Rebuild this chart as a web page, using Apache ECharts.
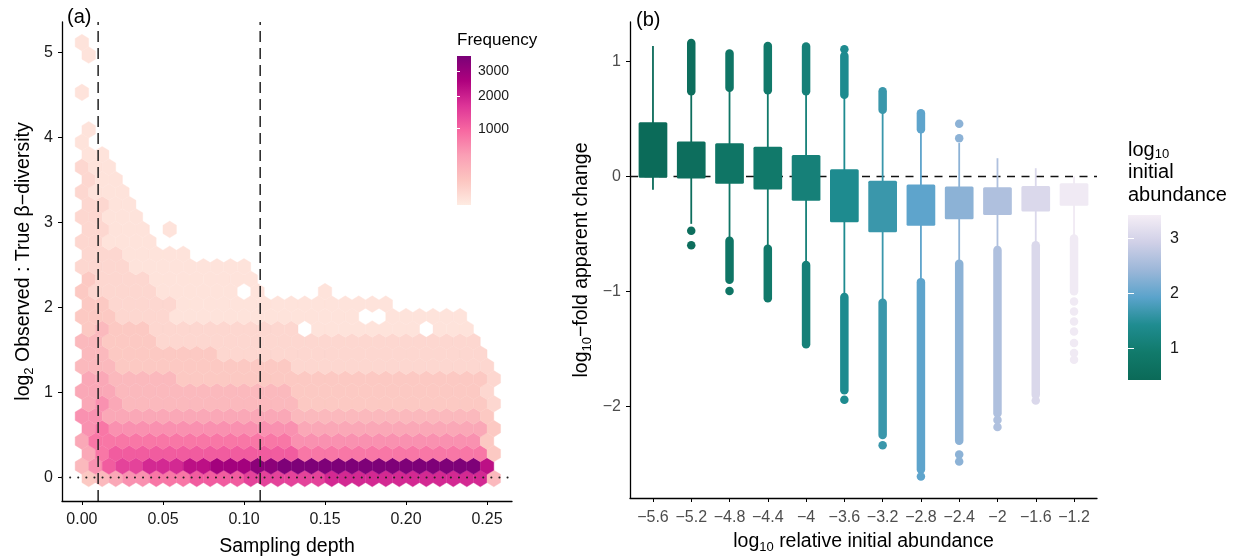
<!DOCTYPE html>
<html><head><meta charset="utf-8">
<script src="https://cdn.jsdelivr.net/npm/echarts@6.0.0/dist/echarts.min.js"></script>
<style>html,body{margin:0;padding:0;background:#fff}#c{width:1239px;height:558px}</style>
</head><body><div id="c"></div>
<script>
// ================= DATA =================
// ---- Panel (a): hexbin of log2 Observed:True beta-diversity vs sampling depth ----
const hexDX = 0.25 / 30;     // hex bin width in x (sampling depth)
const hexDY = 0.1465;        // spacing between hex rows in y
const hexY0 = -0.01;         // centre of the lowest hex row
// frequency read for each colour level
const levelFreq = {'1':10,'2':40,'3':100,'4':200,'5':350,'6':550,'7':800,'8':1100,'9':1450,'a':1850,'b':2300,'c':2800,'d':3300,'e':3600};
// one string per hex row (bottom row first); one character per column, '.' = empty bin
const hexRows = [
  "345667778888999999aaaaaaaaaaaa4",
  "46899aaabbcccddeeeeeeeeeeeeeeeb",
  "5788888888888888777777777777773",
  "5777777777777777666666666666663",
  "6766666666666666555555555555553",
  "6655555555555555444444444444443",
  "5654444444444444333333333333332",
  "5554444444444444333333333333332",
  "5544444333333333333333333333332",
  "4443333333333333222222222222222",
  "443333333322222222222222222222.",
  "443333222222222222222222222222.",
  "3433322222222222.11111111.111...",
  "333222211111111111111..111111..",
  "33222221111111111111111........",
  "322222111111.1....1............",
  "3222211111111..................",
  "2222111111111..................",
  "22211111",
  "221111",
  "22111.1",
  "22111",
  "2211",
  "2111",
  "211",
  "211",
  "11",
  "1",
  "1",
  "",
  "",
  "1",
  "",
  "",
  "1",
  "1"
];
const xTicksA = [0, 0.05, 0.10, 0.15, 0.20, 0.25];
const yTicksA = [0, 1, 2, 3, 4, 5];
const freqTicks = [1000, 2000, 3000];
const freqMin = 1, freqMax = 3700;
const vlinesA = [0.01, 0.11];
const hlineA = 0;

// ---- Panel (b): boxplots of log10-fold apparent change ----
const relAbund    = [-5.6, -5.2, -4.8, -4.4, -4.0, -3.6, -3.2, -2.8, -2.4, -2.0, -1.6, -1.2];
const abundColour = [0.45, 0.55, 0.75, 0.90, 1.10, 1.40, 1.65, 1.95, 2.30, 2.60, 3.05, 3.35];
const whiskerLow  = [-0.117, -0.413, -0.552, -0.625, -0.770, -1.045, -1.100, -0.915, -0.755, -0.639, -0.596, -0.523];
const q1          = [-0.013, -0.019, -0.065, -0.114, -0.213, -0.400, -0.486, -0.430, -0.372, -0.335, -0.306, -0.256];
const q3          = [ 0.470,  0.303,  0.289,  0.257,  0.187,  0.062, -0.039, -0.071, -0.088, -0.094, -0.083, -0.060];
const whiskerHigh = [ 1.135,  0.720,  0.750,  0.740,  0.730,  0.700,  0.560,  0.400,  0.290,  0.158,  0.071,  0.000];
// dense runs of outliers: [category index, from, to]
const outlierRuns = [
  [1, 0.74, 1.16],
  [2, 0.77, 1.07], [2, -0.56, -0.90],
  [3, 0.75, 1.135], [3, -0.63, -1.06],
  [4, 0.74, 1.13], [4, -0.77, -1.46],
  [5, 0.71, 1.05], [5, -1.05, -1.86],
  [6, 0.58, 0.74], [6, -1.10, -2.25],
  [7, 0.41, 0.55], [7, -0.92, -2.55],
  [8, -0.76, -2.30],
  [9, -0.64, -2.06],
  [10, -0.60, -1.90],
  [11, -0.54, -1.00]
];
// isolated outliers: [category index, value]
const outlierPoints = [
  [1, -0.474], [1, -0.600], [2, -0.997], [5, 1.106], [5, -1.943], [6, -2.34], [7, -2.61],
  [8, 0.457], [8, 0.332], [8, -2.42], [8, -2.48], [9, -2.12], [9, -2.18], [10, -1.95],
  [11, -1.089], [11, -1.176], [11, -1.263], [11, -1.35], [11, -1.45], [11, -1.537], [11, -1.596]
];
const yTicksB = [-2, -1, 0, 1];
const abundTicks = [1, 2, 3];
const abundMin = 0.42, abundMax = 3.42;
const hlineB = 0;

// ================= CHART =================
const FONT = "'Liberation Sans', Arial, Helvetica, sans-serif";
const rdpu = ['#feebe2', '#fcc5c0', '#fa9fb5', '#f768a1', '#dd3497', '#ae017e', '#7a0177'];
const pubugn = ['#0b6a58', '#117a6b', '#1f8c90', '#5aa3cb', '#9cb7d9', '#d0d0e7', '#f5eef6'];

const hexData = [];
hexRows.forEach((row, r) => {
  const off = (r % 2 === 0) ? 0.5 : 0;
  for (let k = 0; k < row.length; k++) {
    const ch = row[k];
    if (ch === '.') continue;
    const f = levelFreq[ch];
    hexData.push([(k + off) * hexDX, hexY0 + r * hexDY, f, Math.sqrt(f)]);
  }
});

const xRangeA = [-0.0123, 0.2654], yRangeA = [-0.275, 5.36];
const xRangeB = [-5.84, -0.96], yRangeB = [-2.798, 1.343];
const boxWidth = 0.3;

const boxData = relAbund.map((x, i) => [x, whiskerLow[i], abundColour[i], q1[i], q3[i], whiskerHigh[i]]);
const runData = outlierRuns.map(([i, a, b]) => [relAbund[i], a, abundColour[i], b]);
const pointData = outlierPoints.map(([i, y]) => [relAbund[i], y, abundColour[i]]);

const minus = v => (v < 0 ? '\u2212' : '') + String(+Math.abs(v).toFixed(1));

function gradient(colors) {
  return new echarts.graphic.LinearGradient(0, 1, 0, 0,
    colors.map((c, i) => ({offset: i / (colors.length - 1), color: c})));
}

const subRich = {
  n: {fontSize: 19.5, fontFamily: FONT, color: '#000', lineHeight: 24},
  s: {fontSize: 13, fontFamily: FONT, color: '#000', lineHeight: 10, verticalAlign: 'bottom'}
};

const axisLineStyle = {color: '#000', width: 1.3};

const option = {
  animation: false,
  backgroundColor: '#fff',
  textStyle: {fontFamily: FONT},
  grid: [
    {left: 62, top: 22, width: 450, height: 479, outerBoundsMode: 'none'},
    {left: 630, top: 22, width: 467, height: 476, outerBoundsMode: 'none'},
    {left: 457, top: 56, width: 14, height: 149, outerBoundsMode: 'none'},
    {left: 1128, top: 215, width: 33, height: 165, outerBoundsMode: 'none'}
  ],
  xAxis: [
    {gridIndex: 0, type: 'value', min: xRangeA[0], max: xRangeA[1],
     axisLine: {onZero: false, lineStyle: axisLineStyle}, splitLine: {show: false},
     axisTick: {customValues: xTicksA, length: 4, lineStyle: {color: '#000'}},
     axisLabel: {customValues: xTicksA, formatter: v => v.toFixed(2), fontSize: 16, color: '#1a1a1a', margin: 11},
     name: 'Sampling depth', nameLocation: 'middle', nameGap: 34,
     nameTextStyle: {fontSize: 19.5, color: '#000', lineHeight: 24}},
    {gridIndex: 1, type: 'value', min: xRangeB[0], max: xRangeB[1],
     axisLine: {onZero: false, lineStyle: axisLineStyle}, splitLine: {show: false},
     axisTick: {customValues: relAbund, length: 4, lineStyle: {color: '#000'}},
     axisLabel: {customValues: relAbund, formatter: minus, fontSize: 16, color: '#4d4d4d', margin: 12},
     name: '{n|log}{s|10}{n| relative initial abundance}', nameLocation: 'middle', nameGap: 32,
     nameTextStyle: {rich: subRich}},
    {gridIndex: 2, type: 'value', min: 0, max: 1, show: false},
    {gridIndex: 3, type: 'value', min: 0, max: 1, show: false}
  ],
  yAxis: [
    {gridIndex: 0, type: 'value', min: yRangeA[0], max: yRangeA[1],
     axisLine: {show: true, onZero: false, lineStyle: axisLineStyle}, splitLine: {show: false},
     axisTick: {show: true, customValues: yTicksA, length: 4, lineStyle: {color: '#000'}},
     axisLabel: {customValues: yTicksA, fontSize: 16, color: '#1a1a1a', margin: 9},
     name: '{n|log}{s|2}{n| Observed : True \u03b2\u2212diversity}', nameLocation: 'middle', nameGap: 26,
     nameTextStyle: {rich: subRich}},
    {gridIndex: 1, type: 'value', min: yRangeB[0], max: yRangeB[1],
     axisLine: {show: true, onZero: false, lineStyle: axisLineStyle}, splitLine: {show: false},
     axisTick: {show: true, customValues: yTicksB, length: 4, lineStyle: {color: '#000'}},
     axisLabel: {customValues: yTicksB, formatter: minus, fontSize: 16, color: '#4d4d4d', margin: 9},
     name: '{n|log}{s|10}{n|\u2212fold apparent change}', nameLocation: 'middle', nameGap: 36,
     nameTextStyle: {rich: subRich}},
    {gridIndex: 2, type: 'value', position: 'right', min: Math.sqrt(freqMin), max: Math.sqrt(freqMax), z: 5,
     axisLine: {show: false}, splitLine: {show: false},
     axisTick: {show: true, inside: true, length: 3, customValues: freqTicks.map(Math.sqrt), lineStyle: {color: '#fff', width: 1}},
     axisLabel: {customValues: freqTicks.map(Math.sqrt), formatter: v => String(Math.round(v * v)), fontSize: 14, color: '#1a1a1a', margin: 7}},
    {gridIndex: 2, type: 'value', position: 'left', min: Math.sqrt(freqMin), max: Math.sqrt(freqMax), z: 5,
     axisLine: {show: false}, splitLine: {show: false}, axisLabel: {show: false},
     axisTick: {show: true, inside: true, length: 3, customValues: freqTicks.map(Math.sqrt), lineStyle: {color: '#fff', width: 1}}},
    {gridIndex: 3, type: 'value', position: 'right', min: abundMin, max: abundMax, z: 5,
     axisLine: {show: false}, splitLine: {show: false},
     axisTick: {show: true, inside: true, length: 6, customValues: abundTicks, lineStyle: {color: '#fff', width: 1}},
     axisLabel: {customValues: abundTicks, fontSize: 16, color: '#1a1a1a', margin: 9}},
    {gridIndex: 3, type: 'value', position: 'left', min: abundMin, max: abundMax, z: 5,
     axisLine: {show: false}, splitLine: {show: false}, axisLabel: {show: false},
     axisTick: {show: true, inside: true, length: 6, customValues: abundTicks, lineStyle: {color: '#fff', width: 1}}}
  ],
  visualMap: [
    {type: 'continuous', show: false, seriesIndex: 0, dimension: 3,
     min: Math.sqrt(freqMin), max: Math.sqrt(freqMax), inRange: {color: rdpu}},
    {type: 'continuous', show: false, seriesIndex: [4, 5, 6], dimension: 2,
     min: abundMin, max: abundMax, inRange: {color: pubugn}}
  ],
  graphic: [
    {type: 'text', left: 67, top: 7, style: {text: '(a)', fontSize: 20, fontFamily: FONT, fill: '#000'}},
    {type: 'text', left: 636, top: 10, style: {text: '(b)', fontSize: 20, fontFamily: FONT, fill: '#000'}},
    {type: 'text', left: 457, top: 32, style: {text: 'Frequency', fontSize: 17, fontFamily: FONT, fill: '#000'}},
    {type: 'text', left: 1128, top: 140, style: {
      text: '{n|log}{s|10}\n{n|initial}\n{n|abundance}',
      rich: {
        n: {fontSize: 20, fontFamily: FONT, fill: '#000', color: '#000', lineHeight: 22.5},
        s: {fontSize: 13, fontFamily: FONT, fill: '#000', color: '#000', lineHeight: 10, verticalAlign: 'bottom'}
      }}}
  ],
  series: [
    // 0: hexes
    {type: 'custom', xAxisIndex: 0, yAxisIndex: 0, z: 2, data: hexData,
     encode: {x: 0, y: 1},
     renderItem: (params, api) => {
       const cx = api.value(0), cy = api.value(1);
       const hw = hexDX / 2, hv = hexDY * 2 / 3;
       const pts = [[cx, cy + hv], [cx + hw, cy + hv / 2], [cx + hw, cy - hv / 2], [cx, cy - hv],
                    [cx - hw, cy - hv / 2], [cx - hw, cy + hv / 2]].map(p => api.coord(p));
       const c = api.visual('color');
       return {type: 'polygon', shape: {points: pts}, style: {fill: c, stroke: c, lineWidth: 0.4}};
     }},
    // 1: dashed vertical lines (a)
    {type: 'custom', xAxisIndex: 0, yAxisIndex: 0, z: 4, data: vlinesA.map(v => [v]),
     encode: {x: 0},
     renderItem: (params, api) => {
       const p1 = api.coord([api.value(0), yRangeA[0]]), p2 = api.coord([api.value(0), yRangeA[1]]);
       return {type: 'line', shape: {x1: p1[0], y1: p1[1], x2: p2[0], y2: p2[1]},
               style: {stroke: '#222', lineWidth: 1.5, lineDash: [11, 6]}};
     }},
    // 2: dotted horizontal line at 0 (a)
    {type: 'custom', xAxisIndex: 0, yAxisIndex: 0, z: 4, data: [[hlineA]],
     renderItem: (params, api) => {
       const p1 = api.coord([xRangeA[0], api.value(0)]), p2 = api.coord([xRangeA[1], api.value(0)]);
       return {type: 'line', shape: {x1: p1[0], y1: p1[1], x2: p2[0], y2: p2[1]},
               style: {stroke: '#222', lineWidth: 2, lineDash: [0.1, 8], lineCap: 'round'}};
     }},
    // 3: dashed horizontal line at 0 (b), under the boxes
    {type: 'custom', xAxisIndex: 1, yAxisIndex: 1, z: 1, data: [[hlineB]],
     renderItem: (params, api) => {
       const p1 = api.coord([xRangeB[0], api.value(0)]), p2 = api.coord([xRangeB[1], api.value(0)]);
       return {type: 'line', shape: {x1: p1[0], y1: p1[1], x2: p2[0], y2: p2[1]},
               style: {stroke: '#111', lineWidth: 1.5, lineDash: [8, 6.5]}};
     }},
    // 4: boxes + whiskers
    {type: 'custom', xAxisIndex: 1, yAxisIndex: 1, z: 3, data: boxData,
     encode: {x: 0, y: [1, 5]},
     renderItem: (params, api) => {
       const x = api.value(0);
       const pLo = api.coord([x, api.value(1)]), pHi = api.coord([x, api.value(5)]);
       const tl = api.coord([x - boxWidth / 2, api.value(4)]), br = api.coord([x + boxWidth / 2, api.value(3)]);
       const color = api.visual('color');
       return {type: 'group', children: [
         {type: 'line', shape: {x1: pLo[0], y1: pLo[1], x2: pHi[0], y2: pHi[1]}, style: {stroke: color, lineWidth: 1.8}},
         {type: 'rect', shape: {x: tl[0], y: tl[1], width: br[0] - tl[0], height: br[1] - tl[1], r: 1.5}, style: {fill: color}}
       ]};
     }},
    // 5: dense outlier runs
    {type: 'custom', xAxisIndex: 1, yAxisIndex: 1, z: 3, data: runData,
     encode: {x: 0, y: [1, 3]},
     renderItem: (params, api) => {
       const x = api.value(0);
       const p1 = api.coord([x, api.value(1)]), p2 = api.coord([x, api.value(3)]);
       return {type: 'line', shape: {x1: p1[0], y1: p1[1], x2: p2[0], y2: p2[1]},
               style: {stroke: api.visual('color'), lineWidth: 8.5, lineCap: 'round'}};
     }},
    // 6: isolated outliers
    {type: 'scatter', xAxisIndex: 1, yAxisIndex: 1, z: 3, data: pointData, symbolSize: 8.5,
     encode: {x: 0, y: 1}, itemStyle: {opacity: 1}},
    // 7: colour bar (a)
    {type: 'custom', xAxisIndex: 2, yAxisIndex: 2, z: 2, data: [[0, Math.sqrt(freqMin), 1, Math.sqrt(freqMax)]],
     renderItem: (params, api) => {
       const a = api.coord([api.value(0), api.value(3)]), b = api.coord([api.value(2), api.value(1)]);
       return {type: 'rect', shape: {x: a[0], y: a[1], width: b[0] - a[0], height: b[1] - a[1]}, style: {fill: gradient(rdpu)}};
     }},
    // 8: colour bar (b)
    {type: 'custom', xAxisIndex: 3, yAxisIndex: 4, z: 2, data: [[0, abundMin, 1, abundMax]],
     renderItem: (params, api) => {
       const a = api.coord([api.value(0), api.value(3)]), b = api.coord([api.value(2), api.value(1)]);
       return {type: 'rect', shape: {x: a[0], y: a[1], width: b[0] - a[0], height: b[1] - a[1]}, style: {fill: gradient(pubugn)}};
     }}
  ]
};

const chart = echarts.init(document.getElementById('c'), null, {renderer: 'canvas'});
chart.setOption(option);
</script>
</body></html>
